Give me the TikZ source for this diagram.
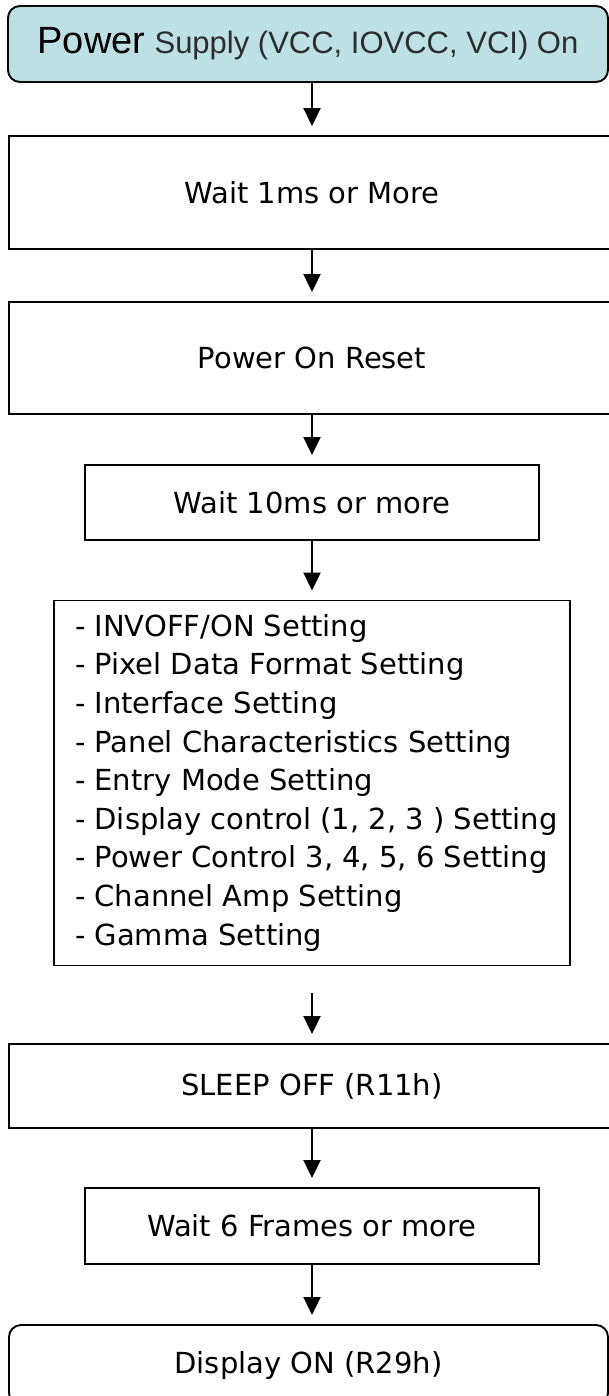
\documentclass[tikz,border=0pt]{standalone}
\usepackage{fontspec}
\setmainfont{DejaVu Sans}
\newfontfamily\headfont{Liberation Sans}
\usetikzlibrary{arrows.meta}
\definecolor{supplyfill}{RGB}{189,224,228}
\definecolor{supplytext}{RGB}{45,45,45}
\hyphenpenalty=10000

\tikzset{
  flowbox/.style={draw=black, line width=1.9pt, inner sep=0pt, text=black,
    font=\fontsize{29}{36}\selectfont},
  termbox/.style={flowbox, rounded corners=12pt},
  flowarrow/.style={line width=2pt, -{Triangle[length=18pt,width=17pt]}, shorten >=9pt},
}

\begin{document}
\begin{tikzpicture}[x=1pt,y=-1pt]
\useasboundingbox (0,0) rectangle (609,1396);

% power-up sequence, top to bottom
\node[termbox, fill=supplyfill, minimum width=600pt, minimum height=76pt] (supply) at (308,44)
  {{\headfont\fontsize{38}{40}\selectfont Power} {\headfont\fontsize{31}{36}\selectfont\color{supplytext}Supply (VCC, IOVCC, VCI) On}};

\node[flowbox, minimum width=606pt, minimum height=113pt] (wait1) at (312,192.5) {Wait 1ms or More};

\node[flowbox, minimum width=606pt, minimum height=112pt] (reset) at (312,358) {Power On Reset};

\node[flowbox, minimum width=454pt, minimum height=75pt] (wait10) at (312,502.5) {Wait 10ms or more};

% register setup list: a 474pt wide left-aligned block, centred in the box
\node[flowbox, minimum width=516pt, minimum height=365pt,
  font=\fontsize{29}{38.6}\selectfont] (setup) at (312,783)
  {\makebox[474pt][l]{\begin{tabular}{@{}l@{}}
   - INVOFF/ON Setting\\
   - Pixel Data Format Setting\\
   - Interface Setting\\
   - Panel Characteristics Setting\\
   - Entry Mode Setting\\
   - Display control (1, 2, 3 ) Setting\\
   - Power Control 3, 4, 5, 6 Setting\\
   - Channel Amp Setting\\
   - Gamma Setting
   \end{tabular}}};

\node[flowbox, minimum width=606pt, minimum height=84pt] (sleep) at (312,1086) {SLEEP OFF (R11h)};

\node[flowbox, minimum width=454pt, minimum height=76pt] (wait6) at (312,1226) {Wait 6 Frames or more};

\node[termbox, minimum width=599pt, minimum height=80pt] (dispon) at (308.5,1365) {Display ON (R29h)};

% connectors
\coordinate (sleepin) at (312,993);
\draw[flowarrow] (supply.south -| wait1) -- (wait1.north);
\draw[flowarrow] (wait1.south) -- (reset.north);
\draw[flowarrow] (reset.south) -- (wait10.north);
\draw[flowarrow] (wait10.south) -- (setup.north -| wait10);
\draw[flowarrow] (sleepin) -- (sleep.north);
\draw[flowarrow] (sleep.south) -- (wait6.north);
\draw[flowarrow] (wait6.south) -- (dispon.north -| wait6);
\end{tikzpicture}
\end{document}
